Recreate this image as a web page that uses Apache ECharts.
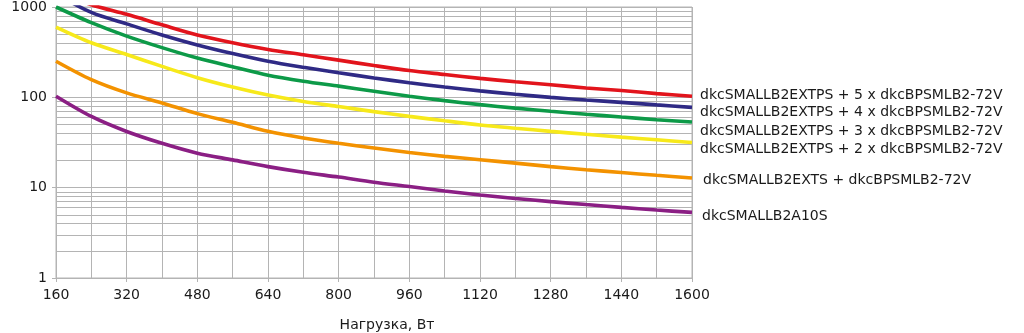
<!DOCTYPE html>
<html>
<head>
<meta charset="utf-8">
<script src="https://cdn.jsdelivr.net/npm/echarts@6/dist/echarts.min.js"></script>
<style>
html,body{margin:0;padding:0;background:#fff;}
#c{width:1024px;height:333px;}
</style>
</head>
<body>
<div id="c"></div>
<script>
// Load, W
const loads = [160,240,320,400,480,560,640,720,800,880,960,1040,1120,1200,1280,1360,1440,1520,1600];
// Backup time, min
const ext5 = [1500,1060,830,635,490,402,339,296,258,225,198,179,162,149,138,127,119,110,103];
const ext4 = [1400,870,650,490,380,305,251,215,187,164,145,130,118,108,100,93.5,88,82.5,77.5];
const ext3 = [1000,671,476,355,272,218,176,151,133,117,103,92,83,76,70,65,60.5,56.5,53.3];
const ext2 = [600,402,298,220,165,130,106,90,79,69.5,61.5,55,49.5,45.5,42,39,36.3,33.9,31.6];
const ext1 = [251,157,112,86.7,66,53,42,35.5,31,27.5,24.5,22.2,20.4,18.7,17.1,15.8,14.7,13.7,12.8];
const base = [103,61.5,41.9,31,24.1,20.3,17.1,14.8,13.1,11.5,10.3,9.2,8.3,7.6,7.0,6.5,6.05,5.65,5.33];

const names = [
  'dkcSMALLB2EXTPS + 5 x dkcBPSMLB2-72V',
  'dkcSMALLB2EXTPS + 4 x dkcBPSMLB2-72V',
  'dkcSMALLB2EXTPS + 3 x dkcBPSMLB2-72V',
  'dkcSMALLB2EXTPS + 2 x dkcBPSMLB2-72V',
  'dkcSMALLB2EXTS + dkcBPSMLB2-72V',
  'dkcSMALLB2A10S'
];
const values = [ext5, ext4, ext3, ext2, ext1, base];
const colors = ['#e2141c','#2f2a85','#0d9a48','#f7e91a','#f39200','#8b1f84'];
const labelOffsets = [[0,-1],[0,5],[0,9],[0,7],[3,2],[2,4]];
const yMinorGrid = [2,3,4,5,6,7,8,9,20,30,40,50,60,70,80,90,200,300,400,500,600,700,800,900];
const xTickLabels = [160,320,480,640,800,960,1120,1280,1440,1600];

const gridColor = '#b4b4b4';
const font = 'DejaVu Sans, Verdana, sans-serif';

const series = values.map((vals, i) => ({
  type: 'line',
  name: names[i],
  data: loads.map((x, j) => [x, vals[j]]),
  smooth: 0.3,
  showSymbol: false,
  symbol: 'none',
  clip: true,
  lineStyle: { color: colors[i], width: 3.6 },
  itemStyle: { color: colors[i] },
  z: 10 - i,
  endLabel: {
    show: true,
    formatter: names[i],
    color: '#1a1a1a',
    fontFamily: font,
    fontSize: 14,
    distance: 8,
    offset: labelOffsets[i]
  }
}));

series.push({
  type: 'line',
  data: [],
  silent: true,
  markLine: {
    silent: true,
    symbol: 'none',
    animation: false,
    label: { show: false },
    lineStyle: { color: gridColor, width: 1, type: 'solid' },
    data: yMinorGrid.map(v => ({ yAxis: v }))
  },
  z: 1
});

const chart = echarts.init(document.getElementById('c'), null, { renderer: 'canvas' });
chart.setOption({
  animation: false,
  backgroundColor: '#fff',
  grid: { left: 56, right: 332, top: 7, bottom: 55, containLabel: false,
          outerBoundsMode: 'none',
          show: true, borderColor: gridColor, borderWidth: 1 },
  xAxis: {
    type: 'value',
    min: 160, max: 1600, interval: 160,
    name: 'Нагрузка, Вт',
    nameLocation: 'middle',
    nameGap: 40,
    nameTextStyle: { fontFamily: font, fontSize: 14, color: '#1a1a1a', padding: [0, 0, 0, 26] },
    axisLine: { show: true, lineStyle: { color: gridColor } },
    axisTick: { show: true, length: 4, lineStyle: { color: gridColor } },
    axisLabel: {
      fontFamily: font, fontSize: 14, color: '#1a1a1a', margin: 10,
      formatter: v => xTickLabels.includes(v) ? String(v) : ''
    },
    splitLine: { show: true, lineStyle: { color: gridColor, width: 1 } },
    minorTick: { show: false, splitNumber: 2 },
    minorSplitLine: { show: true, lineStyle: { color: gridColor, width: 1 } }
  },
  yAxis: {
    type: 'log',
    logBase: 10,
    min: 1, max: 1000,
    name: 'Время, мин.',
    nameLocation: 'middle',
    nameGap: 41,
    nameTextStyle: { fontFamily: font, fontSize: 14, color: '#1a1a1a' },
    axisLine: { show: true, lineStyle: { color: gridColor } },
    axisTick: { show: true, length: 4, lineStyle: { color: gridColor } },
    axisLabel: { fontFamily: font, fontSize: 14, color: '#1a1a1a', margin: 9,
      formatter: v => String(Math.round(v)) },
    splitLine: { show: true, lineStyle: { color: gridColor, width: 1 } }
  },
  series: series
});
</script>
</body>
</html>
